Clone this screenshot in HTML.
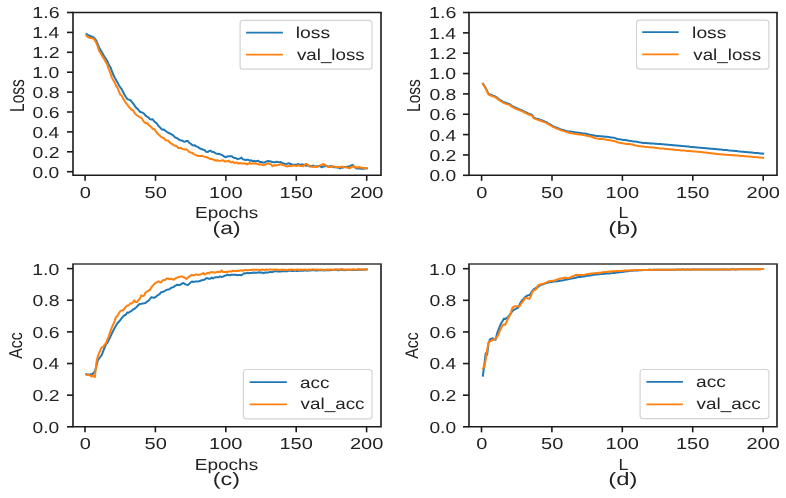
<!DOCTYPE html>
<html><head><meta charset="utf-8"><style>
html,body{margin:0;padding:0;background:#fff;width:786px;height:498px;overflow:hidden}
svg{display:block}
</style></head><body>
<svg width="786" height="498" viewBox="0 0 786 498">
<rect width="786" height="498" fill="#fff"/>
<g font-family='"Liberation Sans", sans-serif' fill="#222" opacity="0.995" style="text-rendering:geometricPrecision">
<polyline points="86.5,34.1 87.9,34.8 89.3,35.4 90.7,36.3 92.1,36.7 93.5,37.3 95.0,38.9 96.4,40.9 97.8,44.3 99.2,47.7 100.6,50.0 102.0,52.4 103.4,54.9 104.8,57.3 106.2,59.3 107.6,61.8 109.0,65.1 110.4,67.2 111.9,71.1 113.3,74.7 114.7,77.5 116.1,79.9 117.5,82.4 118.9,85.2 120.3,87.3 121.7,89.1 123.1,92.0 124.5,94.8 125.9,97.1 127.3,99.0 128.7,99.6 130.2,100.0 131.6,101.6 133.0,103.3 134.4,105.2 135.8,107.4 137.2,108.5 138.6,110.1 140.0,111.8 141.4,112.2 142.8,112.8 144.2,113.8 145.6,115.6 147.1,116.7 148.5,117.5 149.9,119.1 151.3,119.5 152.7,119.2 154.1,121.2 155.5,122.4 156.9,123.5 158.3,125.8 159.7,127.1 161.1,128.6 162.5,129.7 163.9,129.5 165.4,130.7 166.8,131.8 168.2,132.8 169.6,133.3 171.0,134.0 172.4,134.8 173.8,136.1 175.2,137.5 176.6,137.9 178.0,138.8 179.4,139.9 180.8,140.4 182.3,140.6 183.7,141.6 185.1,141.7 186.5,141.0 187.9,141.1 189.3,142.8 190.7,143.8 192.1,144.9 193.5,145.6 194.9,145.3 196.3,146.4 197.7,146.9 199.1,147.8 200.6,148.8 202.0,149.2 203.4,149.7 204.8,150.2 206.2,151.8 207.6,152.1 209.0,151.0 210.4,150.6 211.8,151.8 213.2,151.9 214.6,152.7 216.0,153.5 217.5,153.7 218.9,154.0 220.3,154.3 221.7,154.9 223.1,155.7 224.5,156.8 225.9,157.2 227.3,156.4 228.7,156.3 230.1,156.3 231.5,156.2 232.9,157.1 234.3,158.0 235.8,158.0 237.2,159.0 238.6,158.8 240.0,158.5 241.4,157.5 242.8,159.3 244.2,159.6 245.6,160.0 247.0,159.8 248.4,159.8 249.8,160.8 251.2,160.3 252.7,161.3 254.1,160.8 255.5,161.5 256.9,160.9 258.3,160.8 259.7,162.0 261.1,162.0 262.5,162.2 263.9,162.8 265.3,162.0 266.7,161.4 268.1,160.9 269.5,161.2 271.0,161.5 272.4,162.1 273.8,162.3 275.2,162.3 276.6,161.8 278.0,162.1 279.4,162.3 280.8,162.0 282.2,163.0 283.6,163.3 285.0,164.3 286.4,164.1 287.9,163.4 289.3,163.3 290.7,164.1 292.1,164.4 293.5,165.1 294.9,164.5 296.3,165.3 297.7,163.9 299.1,164.7 300.5,164.6 301.9,164.6 303.3,164.6 304.7,165.0 306.2,165.8 307.6,165.4 309.0,166.2 310.4,166.1 311.8,166.3 313.2,165.5 314.6,166.4 316.0,166.6 317.4,166.1 318.8,166.3 320.2,166.2 321.6,167.3 323.1,166.3 324.5,166.4 325.9,165.7 327.3,166.1 328.7,166.7 330.1,166.2 331.5,165.9 332.9,166.9 334.3,167.2 335.7,167.3 337.1,167.5 338.5,167.2 339.9,168.5 341.4,167.5 342.8,167.7 344.2,167.0 345.6,167.1 347.0,166.6 348.4,166.8 349.8,166.2 351.2,165.5 352.6,164.8 354.0,166.6 355.4,167.7 356.8,168.6 358.3,168.3 359.7,168.6 361.1,168.7 362.5,168.5 363.9,168.8 365.3,168.2 366.7,168.3" fill="none" stroke="#1f77b4" stroke-width="2" stroke-linejoin="round" stroke-linecap="square"/>
<polyline points="86.5,35.9 87.9,37.0 89.3,37.7 90.7,37.9 92.1,38.4 93.5,38.6 95.0,40.5 96.4,43.1 97.8,46.7 99.2,51.2 100.6,53.2 102.0,55.7 103.4,57.9 104.8,60.2 106.2,62.7 107.6,65.7 109.0,69.7 110.4,73.1 111.9,77.6 113.3,80.3 114.7,82.4 116.1,85.9 117.5,87.9 118.9,91.3 120.3,94.7 121.7,95.6 123.1,98.6 124.5,100.8 125.9,103.1 127.3,104.5 128.7,106.8 130.2,108.2 131.6,109.7 133.0,110.2 134.4,112.7 135.8,114.5 137.2,115.5 138.6,116.3 140.0,117.4 141.4,117.7 142.8,120.1 144.2,122.0 145.6,123.2 147.1,122.9 148.5,124.9 149.9,126.0 151.3,127.1 152.7,128.9 154.1,129.1 155.5,130.9 156.9,132.8 158.3,134.3 159.7,135.5 161.1,136.9 162.5,137.7 163.9,138.2 165.4,140.1 166.8,140.4 168.2,140.8 169.6,142.3 171.0,143.6 172.4,144.2 173.8,145.2 175.2,145.9 176.6,146.0 178.0,147.8 179.4,148.2 180.8,147.8 182.3,149.1 183.7,149.2 185.1,149.4 186.5,149.2 187.9,150.6 189.3,152.0 190.7,152.5 192.1,152.8 193.5,154.1 194.9,154.6 196.3,155.2 197.7,155.7 199.1,156.0 200.6,156.1 202.0,155.7 203.4,156.4 204.8,156.9 206.2,157.0 207.6,157.7 209.0,158.4 210.4,159.0 211.8,158.9 213.2,159.5 214.6,160.0 216.0,160.7 217.5,160.2 218.9,160.9 220.3,160.8 221.7,160.4 223.1,160.3 224.5,161.4 225.9,161.3 227.3,161.3 228.7,160.8 230.1,162.0 231.5,162.4 232.9,161.7 234.3,162.9 235.8,162.8 237.2,162.6 238.6,163.7 240.0,162.9 241.4,163.5 242.8,163.4 244.2,163.4 245.6,163.7 247.0,164.2 248.4,163.7 249.8,162.9 251.2,163.8 252.7,163.6 254.1,163.3 255.5,163.8 256.9,163.6 258.3,164.3 259.7,164.8 261.1,164.0 262.5,165.1 263.9,165.2 265.3,164.6 266.7,164.0 268.1,163.1 269.5,163.9 271.0,164.2 272.4,166.2 273.8,165.3 275.2,165.4 276.6,165.2 278.0,165.1 279.4,164.8 280.8,164.0 282.2,164.9 283.6,165.2 285.0,165.4 286.4,166.3 287.9,166.4 289.3,165.8 290.7,166.0 292.1,165.7 293.5,165.6 294.9,165.6 296.3,166.1 297.7,165.3 299.1,165.4 300.5,166.1 301.9,165.8 303.3,166.3 304.7,164.6 306.2,163.8 307.6,164.9 309.0,165.5 310.4,166.5 311.8,166.7 313.2,166.9 314.6,166.5 316.0,166.9 317.4,166.7 318.8,166.1 320.2,165.3 321.6,164.9 323.1,164.0 324.5,164.6 325.9,165.4 327.3,166.7 328.7,166.9 330.1,166.9 331.5,166.3 332.9,166.4 334.3,166.6 335.7,166.9 337.1,167.0 338.5,167.2 339.9,166.9 341.4,166.8 342.8,166.6 344.2,167.3 345.6,167.2 347.0,167.6 348.4,167.9 349.8,168.4 351.2,166.8 352.6,166.7 354.0,165.9 355.4,167.5 356.8,167.3 358.3,167.5 359.7,167.0 361.1,167.8 362.5,167.7 363.9,168.1 365.3,168.0 366.7,168.5" fill="none" stroke="#ff7f0e" stroke-width="2" stroke-linejoin="round" stroke-linecap="square"/>
<polyline points="483.0,83.7 484.4,85.9 485.8,88.2 487.2,91.1 488.6,93.9 490.0,94.4 491.5,95.0 492.9,95.6 494.3,96.1 495.7,96.7 497.1,97.8 498.5,98.9 499.9,99.8 501.3,100.6 502.7,101.5 504.1,102.3 505.5,102.8 506.9,103.3 508.4,103.8 509.8,104.3 511.2,105.3 512.6,106.4 514.0,107.0 515.4,107.6 516.8,108.2 518.2,108.9 519.6,109.4 521.0,110.0 522.4,110.6 523.8,111.3 525.2,112.0 526.7,112.7 528.1,113.4 529.5,113.9 530.9,114.4 532.3,115.2 533.7,117.3 535.1,118.1 536.5,118.6 537.9,119.0 539.3,119.5 540.7,120.0 542.1,120.5 543.6,121.0 545.0,121.6 546.4,122.1 547.8,123.0 549.2,123.8 550.6,124.7 552.0,125.5 553.4,126.3 554.8,126.9 556.2,127.5 557.6,128.0 559.0,128.6 560.4,129.2 561.9,129.6 563.3,130.0 564.7,130.5 566.1,130.9 567.5,131.3 568.9,131.5 570.3,131.6 571.7,131.8 573.1,132.0 574.5,132.2 575.9,132.4 577.3,132.6 578.8,132.8 580.2,133.0 581.6,133.2 583.0,133.4 584.4,133.6 585.8,133.8 587.2,134.1 588.6,134.4 590.0,134.7 591.4,134.9 592.8,135.2 594.2,135.5 595.6,135.8 597.1,136.0 598.5,136.1 599.9,136.2 601.3,136.3 602.7,136.4 604.1,136.5 605.5,136.7 606.9,136.8 608.3,137.0 609.7,137.2 611.1,137.4 612.5,137.6 614.0,137.7 615.4,138.1 616.8,138.8 618.2,139.2 619.6,139.3 621.0,139.5 622.4,139.7 623.8,139.9 625.2,140.0 626.6,140.3 628.0,140.6 629.4,140.8 630.8,141.0 632.3,141.2 633.7,141.4 635.1,141.6 636.5,141.8 637.9,142.0 639.3,142.3 640.7,142.5 642.1,142.7 643.5,142.9 644.9,143.0 646.3,143.1 647.7,143.2 649.2,143.3 650.6,143.4 652.0,143.5 653.4,143.6 654.8,143.7 656.2,143.8 657.6,143.9 659.0,144.0 660.4,144.1 661.8,144.2 663.2,144.3 664.6,144.4 666.0,144.5 667.5,144.7 668.9,144.8 670.3,144.9 671.7,145.0 673.1,145.2 674.5,145.3 675.9,145.4 677.3,145.5 678.7,145.7 680.1,145.8 681.5,145.9 682.9,146.1 684.4,146.2 685.8,146.3 687.2,146.5 688.6,146.6 690.0,146.8 691.4,146.9 692.8,147.0 694.2,147.2 695.6,147.3 697.0,147.4 698.4,147.6 699.8,147.7 701.2,147.8 702.7,148.0 704.1,148.1 705.5,148.2 706.9,148.3 708.3,148.5 709.7,148.6 711.1,148.7 712.5,148.8 713.9,149.0 715.3,149.1 716.7,149.2 718.1,149.3 719.6,149.5 721.0,149.6 722.4,149.7 723.8,149.9 725.2,150.0 726.6,150.1 728.0,150.3 729.4,150.4 730.8,150.6 732.2,150.7 733.6,150.8 735.0,151.0 736.4,151.1 737.9,151.3 739.3,151.4 740.7,151.6 742.1,151.7 743.5,151.8 744.9,152.0 746.3,152.1 747.7,152.2 749.1,152.3 750.5,152.5 751.9,152.6 753.3,152.7 754.8,152.9 756.2,153.0 757.6,153.1 759.0,153.2 760.4,153.4 761.8,153.5 763.2,153.6" fill="none" stroke="#1f77b4" stroke-width="2" stroke-linejoin="round" stroke-linecap="square"/>
<polyline points="483.0,84.0 484.4,86.2 485.8,88.6 487.2,91.8 488.6,94.7 490.0,95.3 491.5,95.8 492.9,96.4 494.3,96.9 495.7,97.5 497.1,98.6 498.5,99.7 499.9,100.6 501.3,101.5 502.7,102.3 504.1,103.2 505.5,103.6 506.9,104.1 508.4,104.6 509.8,105.1 511.2,106.1 512.6,107.2 514.0,107.8 515.4,108.5 516.8,109.1 518.2,109.7 519.6,110.3 521.0,110.8 522.4,111.4 523.8,112.1 525.2,112.8 526.7,113.5 528.1,114.3 529.5,114.7 530.9,115.2 532.3,116.0 533.7,118.1 535.1,118.9 536.5,119.4 537.9,119.8 539.3,120.3 540.7,120.8 542.1,121.3 543.6,121.9 545.0,122.4 546.4,123.0 547.8,123.8 549.2,124.6 550.6,125.5 552.0,126.3 553.4,127.1 554.8,127.7 556.2,128.3 557.6,128.9 559.0,129.4 560.4,130.0 561.9,130.5 563.3,130.9 564.7,131.4 566.1,131.8 567.5,132.2 568.9,132.7 570.3,133.1 571.7,133.3 573.1,133.5 574.5,133.8 575.9,134.0 577.3,134.2 578.8,134.4 580.2,134.6 581.6,134.8 583.0,135.0 584.4,135.3 585.8,135.5 587.2,135.7 588.6,136.0 590.0,136.3 591.4,136.8 592.8,137.3 594.2,137.8 595.6,138.3 597.1,138.6 598.5,138.7 599.9,138.9 601.3,139.0 602.7,139.1 604.1,139.3 605.5,139.4 606.9,139.7 608.3,139.9 609.7,140.2 611.1,140.4 612.5,140.7 614.0,140.9 615.4,141.3 616.8,142.0 618.2,142.5 619.6,142.8 621.0,143.0 622.4,143.3 623.8,143.5 625.2,143.8 626.6,143.9 628.0,143.9 629.4,144.0 630.8,144.3 632.3,144.6 633.7,144.9 635.1,145.2 636.5,145.6 637.9,145.9 639.3,146.2 640.7,146.3 642.1,146.5 643.5,146.6 644.9,146.8 646.3,146.9 647.7,147.1 649.2,147.2 650.6,147.3 652.0,147.5 653.4,147.6 654.8,147.8 656.2,147.9 657.6,148.1 659.0,148.2 660.4,148.4 661.8,148.5 663.2,148.6 664.6,148.8 666.0,148.9 667.5,149.0 668.9,149.2 670.3,149.3 671.7,149.5 673.1,149.6 674.5,149.7 675.9,149.9 677.3,150.0 678.7,150.1 680.1,150.3 681.5,150.4 682.9,150.5 684.4,150.6 685.8,150.8 687.2,150.9 688.6,151.0 690.0,151.1 691.4,151.2 692.8,151.3 694.2,151.4 695.6,151.5 697.0,151.7 698.4,151.8 699.8,151.9 701.2,152.0 702.7,152.2 704.1,152.4 705.5,152.5 706.9,152.7 708.3,152.9 709.7,153.0 711.1,153.2 712.5,153.4 713.9,153.5 715.3,153.7 716.7,153.9 718.1,154.0 719.6,154.2 721.0,154.3 722.4,154.5 723.8,154.6 725.2,154.7 726.6,154.8 728.0,154.9 729.4,155.0 730.8,155.1 732.2,155.2 733.6,155.3 735.0,155.4 736.4,155.5 737.9,155.6 739.3,155.8 740.7,155.9 742.1,156.0 743.5,156.1 744.9,156.2 746.3,156.3 747.7,156.5 749.1,156.6 750.5,156.7 751.9,156.8 753.3,156.9 754.8,157.1 756.2,157.2 757.6,157.3 759.0,157.4 760.4,157.6 761.8,157.7 763.2,157.8" fill="none" stroke="#ff7f0e" stroke-width="2" stroke-linejoin="round" stroke-linecap="square"/>
<polyline points="86.4,374.3 87.8,374.6 89.2,374.4 90.6,374.3 92.0,374.5 93.4,373.0 94.9,371.3 96.3,366.9 97.7,360.4 99.1,358.5 100.5,356.6 101.9,354.6 103.3,350.8 104.7,347.3 106.1,344.0 107.5,342.7 108.9,339.7 110.3,336.9 111.8,333.5 113.2,330.8 114.6,328.1 116.0,325.5 117.4,323.2 118.8,321.7 120.2,320.2 121.6,318.4 123.0,316.6 124.4,315.2 125.8,314.7 127.2,312.6 128.6,312.7 130.1,311.6 131.5,310.9 132.9,309.6 134.3,309.0 135.7,307.8 137.1,306.5 138.5,304.9 139.9,303.9 141.3,303.7 142.7,303.4 144.1,303.2 145.5,302.9 147.0,301.6 148.4,300.9 149.8,299.3 151.2,297.2 152.6,297.4 154.0,297.9 155.4,297.2 156.8,295.9 158.2,295.0 159.6,294.1 161.0,292.3 162.4,292.1 163.8,291.5 165.3,290.6 166.7,289.9 168.1,289.4 169.5,289.3 170.9,288.0 172.3,287.4 173.7,287.0 175.1,285.9 176.5,285.1 177.9,284.8 179.3,284.9 180.7,284.6 182.2,283.4 183.6,283.1 185.0,284.1 186.4,284.6 187.8,285.0 189.2,283.9 190.6,282.5 192.0,281.5 193.4,282.0 194.8,281.6 196.2,281.5 197.6,281.5 199.0,281.2 200.5,280.7 201.9,280.2 203.3,279.9 204.7,279.6 206.1,278.2 207.5,278.2 208.9,278.7 210.3,278.8 211.7,277.6 213.1,278.4 214.5,277.5 215.9,277.3 217.4,277.3 218.8,277.3 220.2,276.3 221.6,277.1 223.0,276.6 224.4,275.8 225.8,275.6 227.2,274.6 228.6,275.1 230.0,275.3 231.4,274.8 232.8,274.8 234.2,274.8 235.7,274.8 237.1,275.3 238.5,274.9 239.9,275.0 241.3,275.2 242.7,274.3 244.1,273.3 245.5,273.4 246.9,272.8 248.3,273.3 249.7,273.0 251.1,273.0 252.6,272.7 254.0,272.5 255.4,272.8 256.8,272.8 258.2,272.4 259.6,272.3 261.0,272.7 262.4,272.6 263.8,273.2 265.2,272.5 266.6,272.6 268.0,272.6 269.4,272.1 270.9,272.0 272.3,272.2 273.7,271.6 275.1,271.3 276.5,271.2 277.9,271.5 279.3,271.5 280.7,271.4 282.1,271.2 283.5,271.3 284.9,271.3 286.3,271.0 287.8,271.2 289.2,270.6 290.6,270.7 292.0,270.9 293.4,270.9 294.8,270.6 296.2,270.9 297.6,271.0 299.0,270.8 300.4,270.7 301.8,270.8 303.2,270.7 304.6,270.3 306.1,270.5 307.5,270.8 308.9,270.2 310.3,270.5 311.7,270.3 313.1,270.2 314.5,270.2 315.9,270.4 317.3,270.4 318.7,270.3 320.1,270.0 321.5,270.2 323.0,270.3 324.4,270.4 325.8,270.3 327.2,270.3 328.6,270.3 330.0,270.3 331.4,269.9 332.8,270.1 334.2,269.9 335.6,269.5 337.0,269.7 338.4,270.4 339.8,269.7 341.3,269.5 342.7,269.8 344.1,270.2 345.5,269.9 346.9,269.9 348.3,269.8 349.7,269.8 351.1,270.0 352.5,269.9 353.9,269.7 355.3,269.9 356.7,269.9 358.2,269.6 359.6,269.7 361.0,269.7 362.4,269.5 363.8,269.8 365.2,269.5 366.6,269.4" fill="none" stroke="#1f77b4" stroke-width="2" stroke-linejoin="round" stroke-linecap="square"/>
<polyline points="86.4,374.7 87.8,374.9 89.2,375.1 90.6,375.6 92.0,376.6 93.4,375.6 94.9,377.1 96.3,363.1 97.7,356.7 99.1,353.0 100.5,349.8 101.9,347.2 103.3,347.0 104.7,344.6 106.1,343.0 107.5,339.2 108.9,336.1 110.3,331.5 111.8,327.7 113.2,324.3 114.6,321.1 116.0,317.1 117.4,315.9 118.8,313.5 120.2,311.3 121.6,310.4 123.0,310.6 124.4,308.6 125.8,306.9 127.2,305.5 128.6,305.5 130.1,303.6 131.5,303.4 132.9,302.6 134.3,300.3 135.7,302.2 137.1,302.1 138.5,300.0 139.9,298.6 141.3,295.4 142.7,296.1 144.1,295.6 145.5,292.5 147.0,291.6 148.4,290.7 149.8,289.9 151.2,287.7 152.6,285.8 154.0,284.4 155.4,283.0 156.8,282.3 158.2,281.4 159.6,281.8 161.0,282.5 162.4,280.6 163.8,280.0 165.3,279.9 166.7,278.5 168.1,278.4 169.5,279.3 170.9,278.6 172.3,279.3 173.7,279.7 175.1,278.6 176.5,277.8 177.9,277.4 179.3,277.0 180.7,276.6 182.2,276.5 183.6,277.3 185.0,277.8 186.4,279.1 187.8,277.6 189.2,276.6 190.6,275.5 192.0,275.0 193.4,275.2 194.8,275.0 196.2,274.3 197.6,274.9 199.0,274.7 200.5,274.5 201.9,274.0 203.3,273.0 204.7,274.5 206.1,273.8 207.5,272.8 208.9,273.4 210.3,272.3 211.7,272.3 213.1,272.1 214.5,272.8 215.9,272.3 217.4,272.1 218.8,271.7 220.2,271.9 221.6,270.6 223.0,271.9 224.4,271.9 225.8,271.7 227.2,272.0 228.6,271.5 230.0,271.5 231.4,271.6 232.8,270.7 234.2,271.0 235.7,271.0 237.1,270.8 238.5,271.1 239.9,270.3 241.3,270.4 242.7,270.7 244.1,270.2 245.5,270.1 246.9,270.1 248.3,270.2 249.7,269.9 251.1,270.0 252.6,269.6 254.0,269.8 255.4,269.7 256.8,269.7 258.2,269.8 259.6,270.0 261.0,269.8 262.4,269.6 263.8,269.9 265.2,269.8 266.6,269.5 268.0,269.8 269.4,269.6 270.9,269.6 272.3,269.6 273.7,269.9 275.1,269.5 276.5,269.6 277.9,269.7 279.3,269.9 280.7,269.9 282.1,269.5 283.5,269.9 284.9,269.7 286.3,269.9 287.8,269.9 289.2,269.6 290.6,269.7 292.0,269.6 293.4,269.8 294.8,270.0 296.2,269.7 297.6,269.5 299.0,270.2 300.4,269.5 301.8,269.7 303.2,269.7 304.6,269.4 306.1,269.8 307.5,269.9 308.9,269.6 310.3,269.7 311.7,269.6 313.1,269.3 314.5,269.7 315.9,269.4 317.3,269.4 318.7,269.7 320.1,269.8 321.5,269.5 323.0,269.9 324.4,270.0 325.8,269.7 327.2,269.6 328.6,269.7 330.0,269.5 331.4,269.4 332.8,269.7 334.2,269.7 335.6,269.5 337.0,269.5 338.4,269.5 339.8,269.5 341.3,269.4 342.7,269.3 344.1,269.8 345.5,269.5 346.9,269.6 348.3,269.9 349.7,269.5 351.1,269.7 352.5,269.3 353.9,269.4 355.3,269.7 356.7,269.5 358.2,269.3 359.6,269.3 361.0,269.6 362.4,269.4 363.8,269.7 365.2,269.6 366.6,269.5" fill="none" stroke="#ff7f0e" stroke-width="2" stroke-linejoin="round" stroke-linecap="square"/>
<polyline points="482.9,375.6 484.3,364.8 485.7,353.3 487.1,354.8 488.5,343.5 489.9,339.4 491.4,338.8 492.8,338.2 494.2,339.4 495.6,339.7 497.0,333.6 498.4,329.9 499.8,326.4 501.2,323.2 502.6,321.0 504.0,318.6 505.4,319.0 506.8,317.9 508.3,316.7 509.7,314.7 511.1,313.0 512.5,310.9 513.9,309.9 515.3,309.2 516.7,308.3 518.1,307.8 519.5,304.6 520.9,302.0 522.3,300.0 523.7,298.6 525.1,297.1 526.6,296.0 528.0,295.4 529.4,295.0 530.8,293.6 532.2,291.1 533.6,289.3 535.0,288.5 536.4,287.7 537.8,287.0 539.2,285.9 540.6,285.2 542.0,284.6 543.5,284.2 544.9,283.5 546.3,283.1 547.7,282.7 549.1,282.2 550.5,282.0 551.9,281.9 553.3,281.6 554.7,281.5 556.1,281.2 557.5,281.2 558.9,281.0 560.3,280.8 561.8,280.5 563.2,280.4 564.6,279.9 566.0,279.6 567.4,279.4 568.8,279.1 570.2,278.8 571.6,278.5 573.0,278.3 574.4,278.0 575.8,277.7 577.2,277.3 578.7,277.1 580.1,276.9 581.5,276.7 582.9,276.5 584.3,276.4 585.7,276.1 587.1,275.8 588.5,275.7 589.9,275.4 591.3,275.2 592.7,275.0 594.1,274.8 595.5,274.6 597.0,274.4 598.4,274.3 599.8,274.3 601.2,274.1 602.6,274.0 604.0,273.8 605.4,273.7 606.8,273.5 608.2,273.4 609.6,273.4 611.0,273.2 612.4,273.1 613.9,272.9 615.3,272.7 616.7,272.6 618.1,272.4 619.5,272.3 620.9,272.1 622.3,272.0 623.7,271.8 625.1,271.6 626.5,271.3 627.9,271.2 629.3,271.0 630.7,270.8 632.2,270.8 633.6,270.6 635.0,270.6 636.4,270.5 637.8,270.4 639.2,270.3 640.6,270.3 642.0,270.2 643.4,270.1 644.8,270.1 646.2,270.0 647.6,269.9 649.1,269.8 650.5,269.8 651.9,269.9 653.3,269.8 654.7,269.8 656.1,269.8 657.5,269.8 658.9,269.7 660.3,269.8 661.7,269.7 663.1,269.8 664.5,269.8 665.9,269.8 667.4,269.7 668.8,269.7 670.2,269.7 671.6,269.7 673.0,269.7 674.4,269.7 675.8,269.7 677.2,269.6 678.6,269.6 680.0,269.7 681.4,269.6 682.8,269.6 684.3,269.6 685.7,269.7 687.1,269.6 688.5,269.6 689.9,269.7 691.3,269.6 692.7,269.6 694.1,269.6 695.5,269.6 696.9,269.5 698.3,269.6 699.7,269.5 701.1,269.5 702.6,269.5 704.0,269.5 705.4,269.5 706.8,269.5 708.2,269.5 709.6,269.5 711.0,269.5 712.4,269.4 713.8,269.4 715.2,269.4 716.6,269.4 718.0,269.4 719.5,269.4 720.9,269.4 722.3,269.4 723.7,269.4 725.1,269.3 726.5,269.4 727.9,269.4 729.3,269.4 730.7,269.4 732.1,269.3 733.5,269.3 734.9,269.4 736.3,269.4 737.8,269.3 739.2,269.3 740.6,269.3 742.0,269.3 743.4,269.3 744.8,269.3 746.2,269.3 747.6,269.3 749.0,269.1 750.4,269.2 751.8,269.3 753.2,269.3 754.7,269.3 756.1,269.2 757.5,269.2 758.9,269.2 760.3,269.3 761.7,269.1 763.1,269.1" fill="none" stroke="#1f77b4" stroke-width="2" stroke-linejoin="round" stroke-linecap="square"/>
<polyline points="482.9,368.2 484.3,367.2 485.7,359.4 487.1,349.9 488.5,342.6 489.9,341.3 491.4,340.8 492.8,339.9 494.2,339.2 495.6,338.8 497.0,337.1 498.4,334.5 499.8,331.2 501.2,328.0 502.6,325.3 504.0,324.2 505.4,324.7 506.8,321.2 508.3,317.9 509.7,315.7 511.1,311.8 512.5,307.6 513.9,306.7 515.3,306.3 516.7,306.3 518.1,306.6 519.5,306.2 520.9,304.0 522.3,302.1 523.7,300.4 525.1,298.0 526.6,298.1 528.0,298.5 529.4,298.9 530.8,296.2 532.2,292.4 533.6,290.4 535.0,289.9 536.4,288.9 537.8,285.7 539.2,284.9 540.6,284.3 542.0,284.1 543.5,283.6 544.9,283.2 546.3,282.6 547.7,281.8 549.1,281.3 550.5,281.1 551.9,280.7 553.3,280.7 554.7,280.6 556.1,279.9 557.5,279.4 558.9,278.8 560.3,278.7 561.8,278.3 563.2,278.2 564.6,277.8 566.0,277.8 567.4,277.9 568.8,278.0 570.2,277.5 571.6,276.8 573.0,276.3 574.4,275.6 575.8,275.0 577.2,274.8 578.7,274.9 580.1,275.0 581.5,275.0 582.9,275.0 584.3,274.8 585.7,274.5 587.1,274.1 588.5,274.0 589.9,273.7 591.3,273.5 592.7,273.4 594.1,273.2 595.5,273.1 597.0,272.9 598.4,272.8 599.8,272.7 601.2,272.6 602.6,272.3 604.0,272.3 605.4,272.1 606.8,272.0 608.2,271.7 609.6,271.6 611.0,271.5 612.4,271.3 613.9,271.3 615.3,271.2 616.7,271.1 618.1,271.0 619.5,270.9 620.9,270.9 622.3,270.8 623.7,270.7 625.1,270.6 626.5,270.6 627.9,270.4 629.3,270.4 630.7,270.3 632.2,270.2 633.6,270.2 635.0,270.2 636.4,270.1 637.8,270.1 639.2,270.0 640.6,270.0 642.0,270.1 643.4,270.0 644.8,270.0 646.2,269.9 647.6,269.9 649.1,269.8 650.5,269.8 651.9,269.9 653.3,269.8 654.7,269.8 656.1,269.8 657.5,269.8 658.9,269.7 660.3,269.8 661.7,269.7 663.1,269.8 664.5,269.8 665.9,269.8 667.4,269.7 668.8,269.7 670.2,269.7 671.6,269.7 673.0,269.7 674.4,269.7 675.8,269.7 677.2,269.6 678.6,269.6 680.0,269.7 681.4,269.6 682.8,269.6 684.3,269.6 685.7,269.7 687.1,269.6 688.5,269.6 689.9,269.7 691.3,269.6 692.7,269.6 694.1,269.6 695.5,269.6 696.9,269.5 698.3,269.6 699.7,269.5 701.1,269.5 702.6,269.5 704.0,269.5 705.4,269.5 706.8,269.5 708.2,269.5 709.6,269.5 711.0,269.5 712.4,269.4 713.8,269.4 715.2,269.4 716.6,269.4 718.0,269.4 719.5,269.4 720.9,269.4 722.3,269.4 723.7,269.4 725.1,269.3 726.5,269.4 727.9,269.4 729.3,269.4 730.7,269.4 732.1,269.3 733.5,269.3 734.9,269.4 736.3,269.4 737.8,269.3 739.2,269.3 740.6,269.3 742.0,269.3 743.4,269.3 744.8,269.3 746.2,269.3 747.6,269.3 749.0,269.1 750.4,269.2 751.8,269.3 753.2,269.3 754.7,269.3 756.1,269.2 757.5,269.2 758.9,269.2 760.3,269.3 761.7,269.1 763.1,269.1" fill="none" stroke="#ff7f0e" stroke-width="2" stroke-linejoin="round" stroke-linecap="square"/>
<path d="M73,175.3V12.5M381,12.5V175.3M72.2,175.3H381.8" fill="none" stroke="#1a1a1a" stroke-width="1.6"/>
<path d="M72.2,12.5H381.8" fill="none" stroke="#1a1a1a" stroke-width="1.7"/>
<line x1="67" y1="171.70" x2="73" y2="171.70" stroke="#1a1a1a" stroke-width="1.6"/>
<text transform="translate(32.60,177.62) scale(1.2070,1)" font-size="15.9">0.0</text>
<line x1="67" y1="151.80" x2="73" y2="151.80" stroke="#1a1a1a" stroke-width="1.6"/>
<text transform="translate(32.59,157.72) scale(1.2213,1)" font-size="15.9">0.2</text>
<line x1="67" y1="131.90" x2="73" y2="131.90" stroke="#1a1a1a" stroke-width="1.6"/>
<text transform="translate(32.60,137.82) scale(1.2070,1)" font-size="15.9">0.4</text>
<line x1="67" y1="112.00" x2="73" y2="112.00" stroke="#1a1a1a" stroke-width="1.6"/>
<text transform="translate(32.59,117.92) scale(1.2213,1)" font-size="15.9">0.6</text>
<line x1="67" y1="92.10" x2="73" y2="92.10" stroke="#1a1a1a" stroke-width="1.6"/>
<text transform="translate(32.59,98.02) scale(1.2213,1)" font-size="15.9">0.8</text>
<line x1="67" y1="72.20" x2="73" y2="72.20" stroke="#1a1a1a" stroke-width="1.6"/>
<text transform="translate(32.29,78.12) scale(1.2214,1)" font-size="15.9">1.0</text>
<line x1="67" y1="52.30" x2="73" y2="52.30" stroke="#1a1a1a" stroke-width="1.6"/>
<text transform="translate(32.27,58.22) scale(1.2363,1)" font-size="15.9">1.2</text>
<line x1="67" y1="32.40" x2="73" y2="32.40" stroke="#1a1a1a" stroke-width="1.6"/>
<text transform="translate(32.29,38.32) scale(1.2214,1)" font-size="15.9">1.4</text>
<line x1="67" y1="12.50" x2="73" y2="12.50" stroke="#1a1a1a" stroke-width="1.6"/>
<text transform="translate(32.27,18.42) scale(1.2363,1)" font-size="15.9">1.6</text>
<line x1="85.10" y1="175.3" x2="85.10" y2="180.8" stroke="#1a1a1a" stroke-width="1.6"/>
<text transform="translate(79.77,197.90) scale(1.2600,1)" font-size="15.9">0</text>
<line x1="155.50" y1="175.3" x2="155.50" y2="180.8" stroke="#1a1a1a" stroke-width="1.6"/>
<text transform="translate(144.59,197.90) scale(1.2600,1)" font-size="15.9">50</text>
<line x1="225.90" y1="175.3" x2="225.90" y2="180.8" stroke="#1a1a1a" stroke-width="1.6"/>
<text transform="translate(209.11,197.90) scale(1.2600,1)" font-size="15.9">100</text>
<line x1="296.30" y1="175.3" x2="296.30" y2="180.8" stroke="#1a1a1a" stroke-width="1.6"/>
<text transform="translate(279.51,197.90) scale(1.2600,1)" font-size="15.9">150</text>
<line x1="366.70" y1="175.3" x2="366.70" y2="180.8" stroke="#1a1a1a" stroke-width="1.6"/>
<text transform="translate(350.07,197.90) scale(1.2600,1)" font-size="15.9">200</text>
<text transform="translate(195.02,218.40) scale(1.1912,1)" font-size="15.9">Epochs</text>
<text transform="translate(212.62,234.00) scale(1.2901,1)" font-size="17.8">(a)</text>
<text transform="translate(23.58,111.91) rotate(-90) scale(0.9953,1.3015)" font-size="15.5">Loss</text>
<path d="M469,175.3V12.5M777,12.5V175.3M468.2,175.3H777.8" fill="none" stroke="#1a1a1a" stroke-width="1.6"/>
<path d="M468.2,12.5H777.8" fill="none" stroke="#1a1a1a" stroke-width="1.7"/>
<line x1="463" y1="175.30" x2="469" y2="175.30" stroke="#1a1a1a" stroke-width="1.6"/>
<text transform="translate(429.40,181.22) scale(1.2070,1)" font-size="15.9">0.0</text>
<line x1="463" y1="154.95" x2="469" y2="154.95" stroke="#1a1a1a" stroke-width="1.6"/>
<text transform="translate(429.39,160.87) scale(1.2213,1)" font-size="15.9">0.2</text>
<line x1="463" y1="134.60" x2="469" y2="134.60" stroke="#1a1a1a" stroke-width="1.6"/>
<text transform="translate(429.40,140.52) scale(1.2070,1)" font-size="15.9">0.4</text>
<line x1="463" y1="114.25" x2="469" y2="114.25" stroke="#1a1a1a" stroke-width="1.6"/>
<text transform="translate(429.39,120.17) scale(1.2213,1)" font-size="15.9">0.6</text>
<line x1="463" y1="93.90" x2="469" y2="93.90" stroke="#1a1a1a" stroke-width="1.6"/>
<text transform="translate(429.39,99.82) scale(1.2213,1)" font-size="15.9">0.8</text>
<line x1="463" y1="73.55" x2="469" y2="73.55" stroke="#1a1a1a" stroke-width="1.6"/>
<text transform="translate(429.09,79.47) scale(1.2214,1)" font-size="15.9">1.0</text>
<line x1="463" y1="53.20" x2="469" y2="53.20" stroke="#1a1a1a" stroke-width="1.6"/>
<text transform="translate(429.07,59.12) scale(1.2363,1)" font-size="15.9">1.2</text>
<line x1="463" y1="32.85" x2="469" y2="32.85" stroke="#1a1a1a" stroke-width="1.6"/>
<text transform="translate(429.09,38.77) scale(1.2214,1)" font-size="15.9">1.4</text>
<line x1="463" y1="12.50" x2="469" y2="12.50" stroke="#1a1a1a" stroke-width="1.6"/>
<text transform="translate(429.07,18.42) scale(1.2363,1)" font-size="15.9">1.6</text>
<line x1="481.60" y1="175.3" x2="481.60" y2="180.8" stroke="#1a1a1a" stroke-width="1.6"/>
<text transform="translate(476.27,197.90) scale(1.2600,1)" font-size="15.9">0</text>
<line x1="552.00" y1="175.3" x2="552.00" y2="180.8" stroke="#1a1a1a" stroke-width="1.6"/>
<text transform="translate(541.09,197.90) scale(1.2600,1)" font-size="15.9">50</text>
<line x1="622.40" y1="175.3" x2="622.40" y2="180.8" stroke="#1a1a1a" stroke-width="1.6"/>
<text transform="translate(605.61,197.90) scale(1.2600,1)" font-size="15.9">100</text>
<line x1="692.80" y1="175.3" x2="692.80" y2="180.8" stroke="#1a1a1a" stroke-width="1.6"/>
<text transform="translate(676.01,197.90) scale(1.2600,1)" font-size="15.9">150</text>
<line x1="763.20" y1="175.3" x2="763.20" y2="180.8" stroke="#1a1a1a" stroke-width="1.6"/>
<text transform="translate(746.57,197.90) scale(1.2600,1)" font-size="15.9">200</text>
<text transform="translate(618.42,218.40) scale(1.1104,1)" font-size="15.9">L</text>
<text transform="translate(608.25,234.00) scale(1.3801,1)" font-size="17.8">(b)</text>
<text transform="translate(419.90,111.91) rotate(-90) scale(0.9953,1.2208)" font-size="15.5">Loss</text>
<path d="M73,426.8V264.0M381,264.0V426.8M72.2,426.8H381.8" fill="none" stroke="#1a1a1a" stroke-width="1.6"/>
<path d="M72.2,264.0H381.8" fill="none" stroke="#383838" stroke-width="1.7"/>
<line x1="67" y1="426.80" x2="73" y2="426.80" stroke="#1a1a1a" stroke-width="1.6"/>
<text transform="translate(32.60,432.72) scale(1.2070,1)" font-size="15.9">0.0</text>
<line x1="67" y1="395.16" x2="73" y2="395.16" stroke="#1a1a1a" stroke-width="1.6"/>
<text transform="translate(32.59,401.08) scale(1.2213,1)" font-size="15.9">0.2</text>
<line x1="67" y1="363.52" x2="73" y2="363.52" stroke="#1a1a1a" stroke-width="1.6"/>
<text transform="translate(32.60,369.44) scale(1.2070,1)" font-size="15.9">0.4</text>
<line x1="67" y1="331.88" x2="73" y2="331.88" stroke="#1a1a1a" stroke-width="1.6"/>
<text transform="translate(32.59,337.80) scale(1.2213,1)" font-size="15.9">0.6</text>
<line x1="67" y1="300.24" x2="73" y2="300.24" stroke="#1a1a1a" stroke-width="1.6"/>
<text transform="translate(32.59,306.16) scale(1.2213,1)" font-size="15.9">0.8</text>
<line x1="67" y1="268.60" x2="73" y2="268.60" stroke="#1a1a1a" stroke-width="1.6"/>
<text transform="translate(32.29,274.52) scale(1.2214,1)" font-size="15.9">1.0</text>
<line x1="85.00" y1="426.8" x2="85.00" y2="432.3" stroke="#1a1a1a" stroke-width="1.6"/>
<text transform="translate(79.67,449.00) scale(1.2600,1)" font-size="15.9">0</text>
<line x1="155.40" y1="426.8" x2="155.40" y2="432.3" stroke="#1a1a1a" stroke-width="1.6"/>
<text transform="translate(144.49,449.00) scale(1.2600,1)" font-size="15.9">50</text>
<line x1="225.80" y1="426.8" x2="225.80" y2="432.3" stroke="#1a1a1a" stroke-width="1.6"/>
<text transform="translate(209.01,449.00) scale(1.2600,1)" font-size="15.9">100</text>
<line x1="296.20" y1="426.8" x2="296.20" y2="432.3" stroke="#1a1a1a" stroke-width="1.6"/>
<text transform="translate(279.41,449.00) scale(1.2600,1)" font-size="15.9">150</text>
<line x1="366.60" y1="426.8" x2="366.60" y2="432.3" stroke="#1a1a1a" stroke-width="1.6"/>
<text transform="translate(349.97,449.00) scale(1.2600,1)" font-size="15.9">200</text>
<text transform="translate(194.82,469.50) scale(1.1951,1)" font-size="15.9">Epochs</text>
<text transform="translate(212.80,485.00) scale(1.3158,1)" font-size="17.8">(c)</text>
<text transform="translate(21.71,358.70) rotate(-90) scale(1.0197,1.2028)" font-size="15.5">Acc</text>
<path d="M469,426.8V264.0M777,264.0V426.8M468.2,426.8H777.8" fill="none" stroke="#1a1a1a" stroke-width="1.6"/>
<path d="M468.2,264.0H777.8" fill="none" stroke="#383838" stroke-width="1.7"/>
<line x1="463" y1="426.80" x2="469" y2="426.80" stroke="#1a1a1a" stroke-width="1.6"/>
<text transform="translate(429.40,432.72) scale(1.2070,1)" font-size="15.9">0.0</text>
<line x1="463" y1="395.18" x2="469" y2="395.18" stroke="#1a1a1a" stroke-width="1.6"/>
<text transform="translate(429.39,401.10) scale(1.2213,1)" font-size="15.9">0.2</text>
<line x1="463" y1="363.56" x2="469" y2="363.56" stroke="#1a1a1a" stroke-width="1.6"/>
<text transform="translate(429.40,369.48) scale(1.2070,1)" font-size="15.9">0.4</text>
<line x1="463" y1="331.94" x2="469" y2="331.94" stroke="#1a1a1a" stroke-width="1.6"/>
<text transform="translate(429.39,337.86) scale(1.2213,1)" font-size="15.9">0.6</text>
<line x1="463" y1="300.32" x2="469" y2="300.32" stroke="#1a1a1a" stroke-width="1.6"/>
<text transform="translate(429.39,306.24) scale(1.2213,1)" font-size="15.9">0.8</text>
<line x1="463" y1="268.70" x2="469" y2="268.70" stroke="#1a1a1a" stroke-width="1.6"/>
<text transform="translate(429.09,274.62) scale(1.2214,1)" font-size="15.9">1.0</text>
<line x1="481.50" y1="426.8" x2="481.50" y2="432.3" stroke="#1a1a1a" stroke-width="1.6"/>
<text transform="translate(476.17,449.00) scale(1.2600,1)" font-size="15.9">0</text>
<line x1="551.90" y1="426.8" x2="551.90" y2="432.3" stroke="#1a1a1a" stroke-width="1.6"/>
<text transform="translate(540.99,449.00) scale(1.2600,1)" font-size="15.9">50</text>
<line x1="622.30" y1="426.8" x2="622.30" y2="432.3" stroke="#1a1a1a" stroke-width="1.6"/>
<text transform="translate(605.51,449.00) scale(1.2600,1)" font-size="15.9">100</text>
<line x1="692.70" y1="426.8" x2="692.70" y2="432.3" stroke="#1a1a1a" stroke-width="1.6"/>
<text transform="translate(675.91,449.00) scale(1.2600,1)" font-size="15.9">150</text>
<line x1="763.10" y1="426.8" x2="763.10" y2="432.3" stroke="#1a1a1a" stroke-width="1.6"/>
<text transform="translate(746.47,449.00) scale(1.2600,1)" font-size="15.9">200</text>
<text transform="translate(618.42,469.50) scale(1.1104,1)" font-size="15.9">L</text>
<text transform="translate(608.28,485.00) scale(1.3401,1)" font-size="17.8">(d)</text>
<text transform="translate(417.92,358.70) rotate(-90) scale(1.0197,1.1759)" font-size="15.5">Acc</text>
<rect x="240.1" y="20.4" width="131.9" height="48.8" rx="3" ry="3" fill="#fff" fill-opacity="0.8" stroke="#d4d4d4" stroke-width="1.2"/>
<line x1="246.1" y1="32.7" x2="282.9" y2="32.7" stroke="#1f77b4" stroke-width="1.7"/>
<line x1="246.1" y1="54.7" x2="282.9" y2="54.7" stroke="#ff7f0e" stroke-width="1.7"/>
<text transform="translate(295.69,38.10) scale(1.2248,1)" font-size="15.8">loss</text>
<text transform="translate(296.90,60.20) scale(1.1875,1)" font-size="15.8">val_loss</text>
<rect x="636.5" y="20.1" width="132.4" height="49.0" rx="3" ry="3" fill="#fff" fill-opacity="0.8" stroke="#d4d4d4" stroke-width="1.2"/>
<line x1="642.2" y1="32.2" x2="678.7" y2="32.2" stroke="#1f77b4" stroke-width="1.7"/>
<line x1="642.2" y1="54.4" x2="678.7" y2="54.4" stroke="#ff7f0e" stroke-width="1.7"/>
<text transform="translate(692.09,38.10) scale(1.2211,1)" font-size="15.8">loss</text>
<text transform="translate(693.30,60.20) scale(1.1875,1)" font-size="15.8">val_loss</text>
<rect x="243.4" y="369.5" width="128.6" height="49.3" rx="3" ry="3" fill="#fff" fill-opacity="0.8" stroke="#d4d4d4" stroke-width="1.2"/>
<line x1="249.7" y1="382.1" x2="286.8" y2="382.1" stroke="#1f77b4" stroke-width="1.7"/>
<line x1="249.7" y1="404.4" x2="286.8" y2="404.4" stroke="#ff7f0e" stroke-width="1.7"/>
<text transform="translate(300.01,387.50) scale(1.1993,1)" font-size="15.8">acc</text>
<text transform="translate(300.60,409.20) scale(1.1927,1)" font-size="15.8">val_acc</text>
<rect x="640.1" y="369.5" width="128.8" height="49.2" rx="3" ry="3" fill="#fff" fill-opacity="0.8" stroke="#d4d4d4" stroke-width="1.2"/>
<line x1="646.4" y1="381.8" x2="682.9" y2="381.8" stroke="#1f77b4" stroke-width="1.7"/>
<line x1="646.4" y1="404.4" x2="682.9" y2="404.4" stroke="#ff7f0e" stroke-width="1.7"/>
<text transform="translate(696.00,387.40) scale(1.2161,1)" font-size="15.8">acc</text>
<text transform="translate(696.60,409.20) scale(1.1964,1)" font-size="15.8">val_acc</text>
</g>
</svg>
</body></html>
